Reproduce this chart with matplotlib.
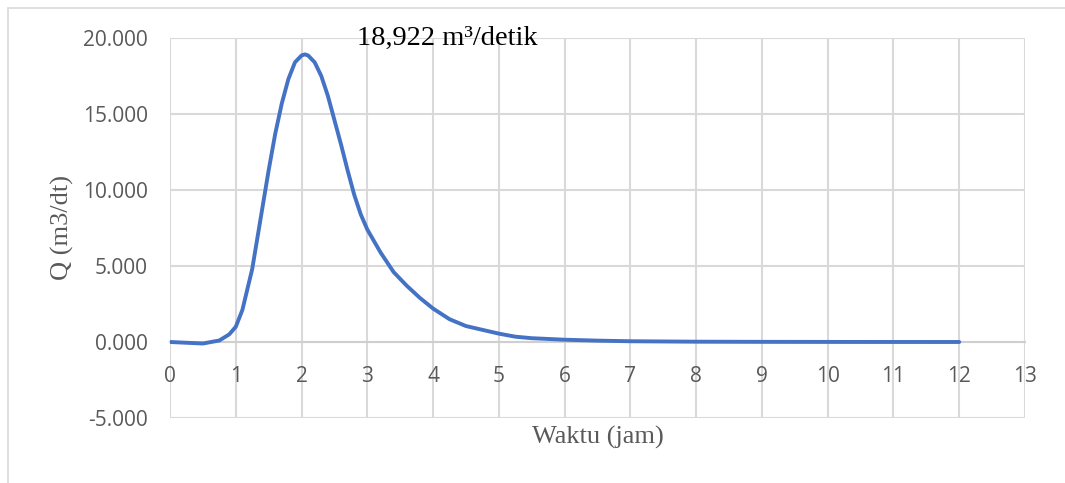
# hydrograph - debit banjir vs waktu

import matplotlib.pyplot as plt
from matplotlib.patches import Rectangle

# waktu (jam) and debit Q (m3/dt)
waktu = [0, 0.25, 0.5, 0.75, 0.9, 1.0, 1.1, 1.25, 1.4, 1.5, 1.6, 1.7, 1.8, 1.9, 2.0, 2.05,
         2.1, 2.2, 2.3, 2.4, 2.5, 2.6, 2.7, 2.8, 2.9, 3.0, 3.2, 3.4, 3.6, 3.8, 4.0,
         4.25, 4.5, 4.75, 5.0, 5.25, 5.5, 6.0, 6.5, 7, 8, 9, 10, 11, 12]
debit = [0.0, -0.05, -0.1, 0.1, 0.5, 1.0, 2.1, 4.8, 8.7, 11.3, 13.7, 15.7, 17.3, 18.4, 18.85, 18.922,
         18.85, 18.4, 17.5, 16.2, 14.6, 13.0, 11.3, 9.7, 8.4, 7.4, 5.9, 4.6, 3.7, 2.9, 2.2,
         1.5, 1.05, 0.8, 0.55, 0.35, 0.25, 0.15, 0.09, 0.05, 0.02, 0.01, 0.005, 0.002, 0.001]

x_ticks = list(range(0, 14))
y_ticks = [-5, 0, 5, 10, 15, 20]
y_labels = ["-5.000", "0.000", "5.000", "10.000", "15.000", "20.000"]
peak_label = "18,922 m\u00b3/detik"

grey = "#595959"
grid = "#D9D9D9"

fig = plt.figure(figsize=(10.65, 4.83), dpi=100)
ax = fig.add_axes([170 / 1065, 65 / 483, 855 / 1065, 380 / 483])

ax.plot(waktu, debit, color="#4472C4", linewidth=2.8, solid_joinstyle="round",
        solid_capstyle="round", zorder=3)

ax.set_xlim(0, 13)
ax.set_ylim(-5, 20)
ax.set_xticks(x_ticks)
ax.set_yticks(y_ticks)
ax.set_yticklabels(y_labels)
ax.grid(True, color=grid, linewidth=1.5)
ax.set_axisbelow(True)

for s in ["top", "left", "right"]:
    ax.spines[s].set_visible(False)
ax.spines["bottom"].set_position(("data", 0))
ax.spines["bottom"].set_color("#CFCFCF")
ax.spines["bottom"].set_linewidth(1.5)

ax.tick_params(axis="both", length=0, labelcolor=grey)
ax.tick_params(axis="x", pad=17)
ax.tick_params(axis="y", pad=16)
for lab in ax.get_xticklabels() + ax.get_yticklabels():
    lab.set_fontfamily("Open Sans")
    lab.set_fontsize(15)

ax.set_ylabel("Q (m3/dt)", family="Liberation Serif", fontsize=19, color=grey)
ax.set_xlabel("Waktu (jam)", family="Liberation Serif", fontsize=19, color=grey)
ax.xaxis.set_label_coords(0.5, -0.022)
ax.yaxis.set_label_coords(-0.112, 0.5)

ax.text(2.85, 20.0, peak_label, family="Liberation Serif", fontsize=20.5, color="black",
        ha="left", va="center")

# chart area frame
fig.patches.append(Rectangle((8 / 1065, -0.1), 1.2, (475 / 483) + 0.1, transform=fig.transFigure,
                             fill=False, edgecolor="#D9D9D9", linewidth=1.2))

plt.savefig("out.png", dpi=100)
